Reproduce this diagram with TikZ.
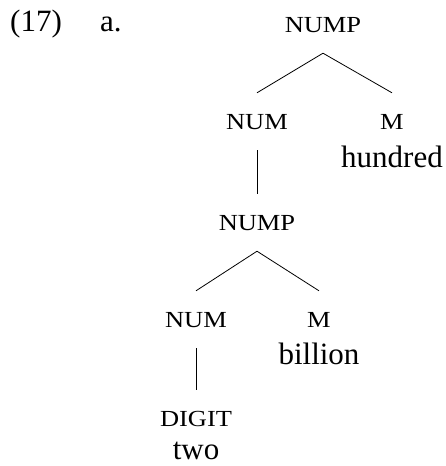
\documentclass[tikz,border=0pt]{standalone}
\usepackage{fontspec}
\setmainfont{Liberation Serif}
\newfontfamily\catfont[FakeStretch=1.15]{Liberation Serif}
\usetikzlibrary{positioning}

\tikzset{
  cat/.style={font=\catfont\fontsize{23}{26}\selectfont,anchor=base,
    text height=15pt,text depth=0pt,inner xsep=2pt,inner ysep=21pt},
  word/.style={anchor=base,inner sep=0pt},
  branch/.style={line width=0.8pt}
}

\begin{document}
\begin{tikzpicture}[x=1pt,y=-1pt,font=\fontsize{31}{36}\selectfont]
\useasboundingbox (0,0) rectangle (446,466);
\node[word,anchor=base west] (exnum) at (10,31) {(17)};
\node[word,anchor=base west] (exlet) at (100,31) {a.};
% top NumP
\node[cat] (nump1) at (323,32) {NUMP};
\node[cat] (num1) at (257,129) {NUM};
\node[cat] (m1) at (392,129) {M};
\node[word] (hundred) at (392,167) {hundred};
% lower NumP
\node[cat] (nump2) at (257,230) {NUMP};
\node[cat] (num2) at (196,327) {NUM};
\node[cat] (m2) at (319,327) {M};
\node[word] (billion) at (319,364) {billion};
\node[cat] (digit) at (196,426) {DIGIT};
\node[word] (two) at (196,459) {two};
% branches
\draw[branch] (nump1.south) -- (num1.north);
\draw[branch] (nump1.south) -- (m1.north);
\draw[branch] (num1.south) -- (nump2.north);
\draw[branch] (nump2.south) -- (num2.north);
\draw[branch] (nump2.south) -- (m2.north);
\draw[branch] (num2.south) -- (digit.north);
\end{tikzpicture}
\end{document}
